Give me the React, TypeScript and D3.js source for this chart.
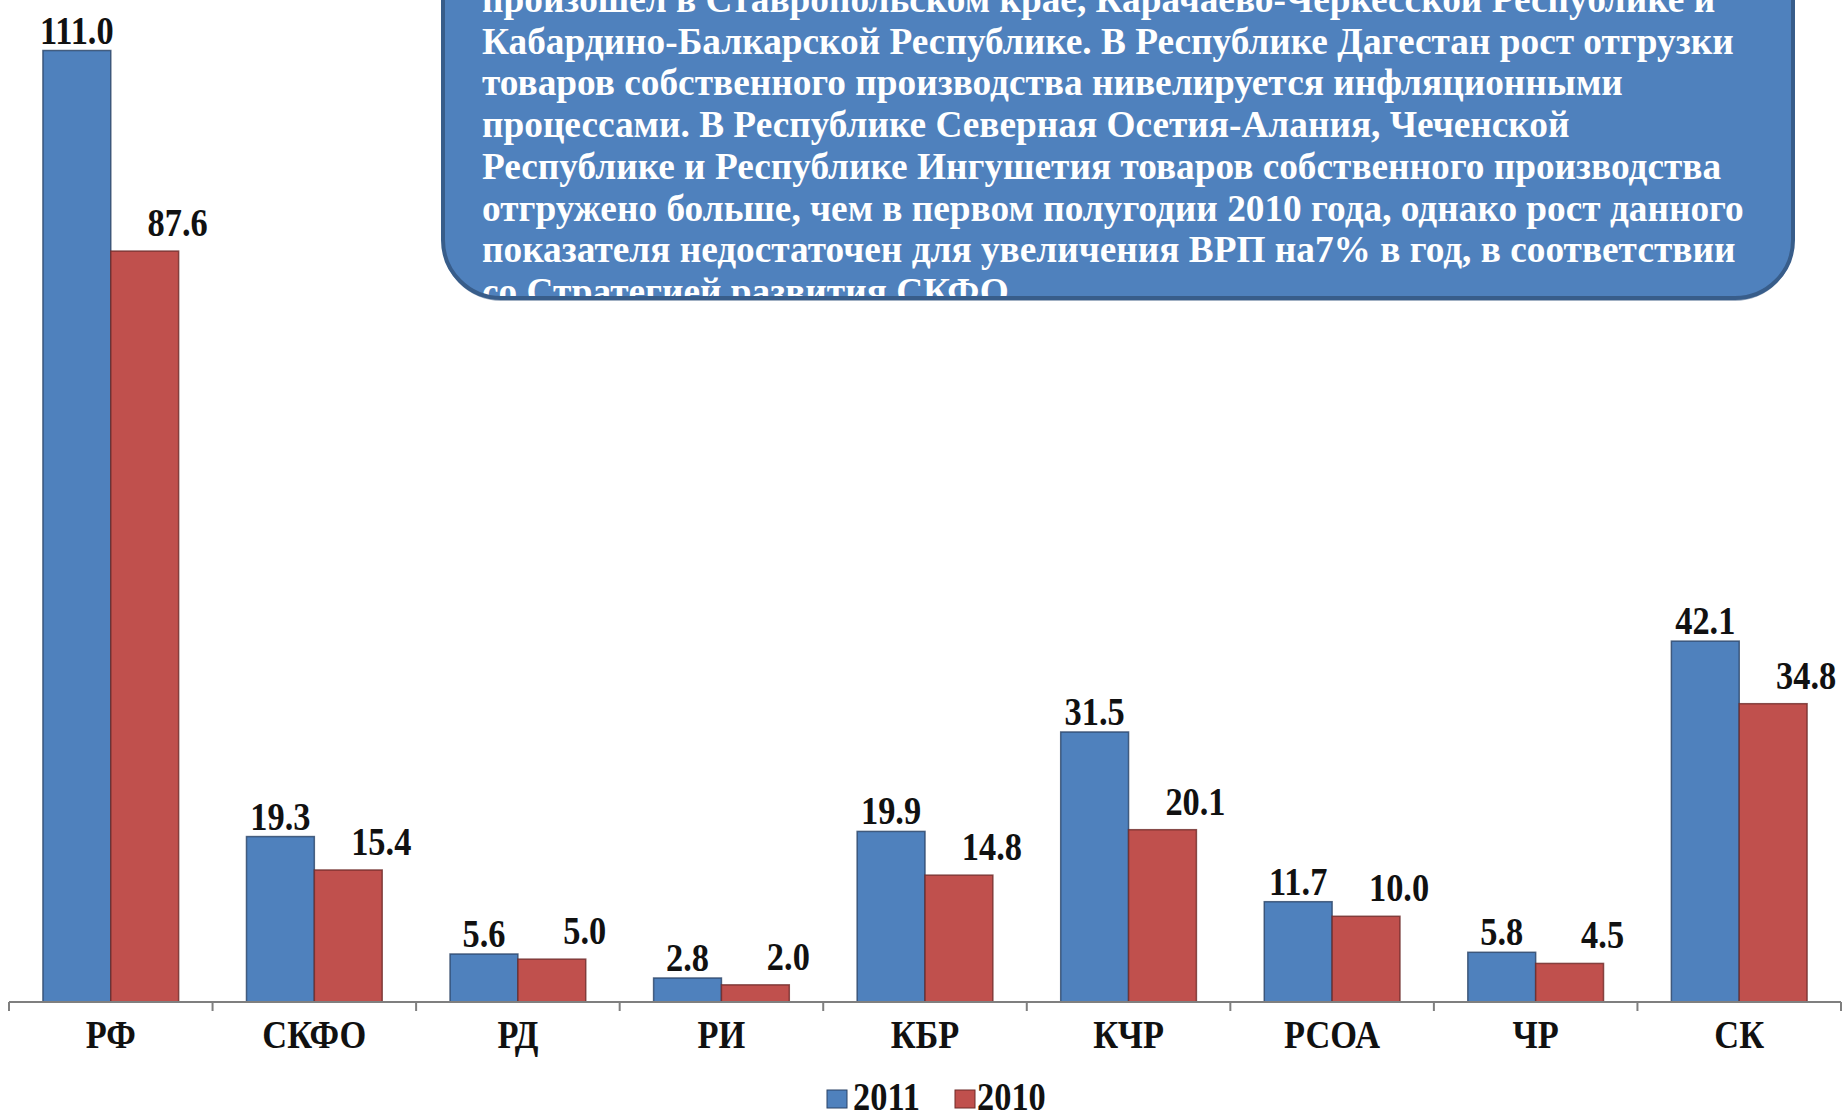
import React from "react";
import * as d3 from "d3";

const categories = ["РФ", "СКФО", "РД", "РИ", "КБР", "КЧР", "РСОА", "ЧР", "СК"];
const values2011 = [111.0, 19.3, 5.6, 2.8, 19.9, 31.5, 11.7, 5.8, 42.1];
const values2010 = [87.6, 15.4, 5.0, 2.0, 14.8, 20.1, 10.0, 4.5, 34.8];
const seriesNames = ["2011", "2010"];
const seriesFill = ["#4F81BD", "#C0504D"];
const seriesStroke = ["#2B4366", "#6E2B29"];

const noteLines = [
  "произошел в Ставропольском крае,  Карачаево-Черкесской Республике и",
  "Кабардино-Балкарской Республике. В Республике Дагестан рост отгрузки",
  "товаров собственного производства нивелируется инфляционными",
  "процессами. В Республике Северная Осетия-Алания, Чеченской",
  "Республике и Республике Ингушетия товаров собственного производства",
  "отгружено больше, чем в первом полугодии 2010 года, однако рост данного",
  "показателя недостаточен для увеличения ВРП на7% в год, в соответствии",
  "со Стратегией развития СКФО.",
];

const W = 1848;
const H = 1120;
const FONT = "'Liberation Serif', 'Times New Roman', serif";
const SX = 0.86;

export default function App() {
  const x = d3.scaleBand<string>().domain(categories).range([9, 1841]).padding(0);
  const xs = d3
    .scaleBand<string>()
    .domain(seriesNames)
    .range([0, x.bandwidth()])
    .paddingInner(0)
    .paddingOuter(0.5);
  const y = d3.scaleLinear().domain([0, 111]).range([1002, 50.5]);
  const series = [values2011, values2010];

  const box = { l: 443, r: 1793, t: -80, b: 298, rad: 58 };
  const boxPath = `M${box.l},${box.t} H${box.r} V${box.b - box.rad} A${box.rad},${box.rad} 0 0 1 ${box.r - box.rad},${box.b} H${box.l + box.rad} A${box.rad},${box.rad} 0 0 1 ${box.l},${box.b - box.rad} Z`;

  const tickXs = categories.map((c) => x(c)!).concat([x.range()[1]]);
  const legendItems = [
    { name: seriesNames[0], sx: 827, tx: 853, i: 0 },
    { name: seriesNames[1], sx: 955, tx: 977, i: 1 },
  ];

  return (
    <svg
      width={W}
      height={H}
      style={{ position: "absolute", left: 0, top: 0, display: "block", background: "#fff" }}
      fontFamily={FONT}
    >
      <defs>
        <clipPath id="boxclip">
          <path d={boxPath} />
        </clipPath>
      </defs>

      {/* bars */}
      {series.map((vals, si) =>
        categories.map((c, ci) => {
          const bx = x(c)! + xs(seriesNames[si])!;
          return (
            <rect
              key={`b${si}-${ci}`}
              x={bx}
              y={y(vals[ci])}
              width={xs.bandwidth()}
              height={y(0) - y(vals[ci])}
              fill={seriesFill[si]}
              stroke={seriesStroke[si]}
              strokeWidth={1.5}
              strokeOpacity={0.8}
            />
          );
        })
      )}

      {/* value labels */}
      {series.map((vals, si) =>
        categories.map((c, ci) => {
          const cx = x(c)! + xs(seriesNames[si])! + xs.bandwidth() / 2 + (si === 1 ? 33 : 0);
          const by = y(vals[ci]) - (si === 1 ? 15 : 7);
          return (
            <text
              key={`l${si}-${ci}`}
              transform={`translate(${cx},${by}) scale(${SX},1)`}
              textAnchor="middle"
              fontSize={40}
              fontWeight="bold"
              fill="#111"
            >
              {vals[ci].toFixed(1)}
            </text>
          );
        })
      )}

      {/* axis */}
      <line x1={x.range()[0]} x2={x.range()[1]} y1={y(0)} y2={y(0)} stroke="#7f7f7f" strokeWidth={2} />
      {tickXs.map((tx, i) => (
        <line key={`t${i}`} x1={tx} x2={tx} y1={y(0)} y2={y(0) + 9} stroke="#7f7f7f" strokeWidth={2} />
      ))}
      {categories.map((c) => (
        <text
          key={`c${c}`}
          transform={`translate(${x(c)! + x.bandwidth() / 2},1048) scale(${SX},1)`}
          textAnchor="middle"
          fontSize={40}
          fontWeight="bold"
          fill="#111"
        >
          {c}
        </text>
      ))}

      {/* legend */}
      {legendItems.map((it) => (
        <g key={it.name}>
          <rect x={it.sx} y={1090} width={20} height={18} fill={seriesFill[it.i]} stroke={seriesStroke[it.i]} strokeWidth={1} />
          <text
            transform={`translate(${it.tx},1110) scale(${SX},1)`}
            fontSize={40}
            fontWeight="bold"
            fill="#111"
          >
            {it.name}
          </text>
        </g>
      ))}

      {/* note box */}
      <path d={boxPath} transform="translate(0,3)" fill="#2F4F7A" opacity={0.45} />
      <path d={boxPath} fill="#4F81BD" />
      <g clipPath="url(#boxclip)">
        {noteLines.map((ln, i) => (
          <text key={`n${i}`} x={482} y={12 + i * 41.7} fontSize={37.3} fontWeight="bold" fill="#fff">
            {ln}
          </text>
        ))}
      </g>
      <path d={boxPath} fill="none" stroke="#385D8A" strokeWidth={4} />
    </svg>
  );
}
